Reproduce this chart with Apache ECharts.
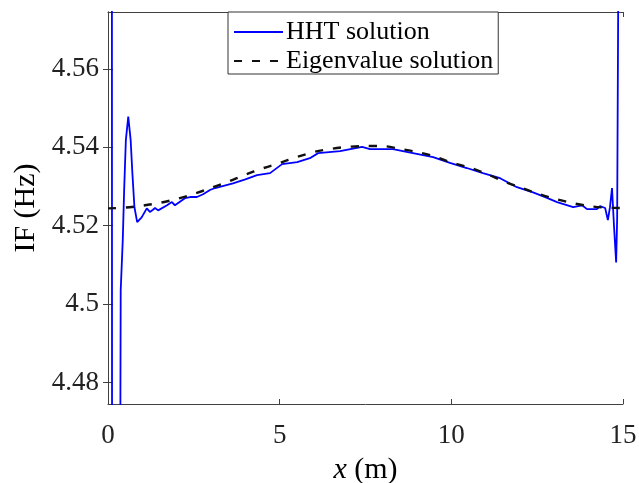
<!DOCTYPE html>
<html>
<head>
<meta charset="utf-8">
<script src="https://cdn.jsdelivr.net/npm/echarts@6/dist/echarts.min.js"></script>
<style>
  html, body { margin: 0; padding: 0; background: #fff; }
  #chart { width: 639px; height: 483px; }
</style>
</head>
<body>
<div id="chart"></div>
<script>
"use strict";

// HHT solution (blue); values beyond the axis run off the plot
var hhtX = [0.00, 0.11, 0.12, 0.35, 0.36, 0.37, 0.43, 0.47, 0.52, 0.59, 0.66, 0.71, 0.77, 0.85,
  0.98, 1.13, 1.22, 1.30, 1.37, 1.46, 1.72, 1.86, 1.95, 2.24, 2.39, 2.59, 2.77, 2.97, 3.12,
  3.64, 4.00, 4.34, 4.72, 5.07, 5.51, 5.88, 6.12, 6.76, 7.40, 7.63, 8.30, 8.88, 9.47, 9.96,
  10.45, 10.92, 11.42, 11.91, 12.38, 12.75, 13.08, 13.55, 13.81, 13.95, 14.24, 14.33, 14.48,
  14.56, 14.62, 14.68, 14.74, 14.80, 14.83, 14.86, 14.87, 15.00];
var hhtY = [4.70, 4.70, 4.40, 4.40, 4.47, 4.5035, 4.5163, 4.5290, 4.5418, 4.5478, 4.5418, 4.5334, 4.5247, 4.5209,
  4.5221, 4.5244, 4.5235, 4.5240, 4.5245, 4.5239, 4.5252, 4.5260, 4.5252, 4.5270, 4.5273, 4.5273, 4.5280, 4.5291, 4.5296,
  4.5308, 4.5318, 4.5329, 4.5334, 4.5357, 4.5362, 4.5372, 4.5385, 4.5390, 4.5401, 4.5395, 4.5395, 4.5385, 4.5375, 4.5360,
  4.5347, 4.5334, 4.5321, 4.5298, 4.5285, 4.5272, 4.5260, 4.5247, 4.5252, 4.5242, 4.5242, 4.5250, 4.5245,
  4.5214, 4.5247, 4.5296, 4.5196, 4.5106, 4.5221, 4.5760, 4.70, 4.70];

// Eigenvalue solution (black dashed)
var eigX = [0, 0.5, 1.0, 1.5, 2.0, 2.5, 3.0, 3.5, 4.0, 4.5, 5.0, 5.5, 6.0, 6.5, 7.0, 7.5,
  8.0, 8.5, 9.0, 9.5, 10.0, 10.5, 11.0, 11.5, 12.0, 12.5, 13.0, 13.5, 14.0, 14.5, 15.0];
var eigY = [4.5244, 4.5246, 4.5251, 4.5258, 4.5268, 4.5281, 4.5296, 4.5312, 4.5330, 4.5346, 4.5360, 4.5375, 4.5388, 4.5396, 4.5401, 4.5403,
  4.5403, 4.5396, 4.5388, 4.5377, 4.5361, 4.5349, 4.5333, 4.5314, 4.5298, 4.5282, 4.5269, 4.5258, 4.5250, 4.5246, 4.5245];

var xTicks = [0, 5, 10, 15];
var yTicks = [4.48, 4.5, 4.52, 4.54, 4.56];
var seriesNames = ['HHT solution', 'Eigenvalue solution'];

var FONT = 'Liberation Serif';
var AXIS_COLOR = '#404040';

function pairs(xs, ys) {
  return xs.map(function(x, i) { return [x, ys[i]]; });
}

var chart = echarts.init(document.getElementById('chart'));

var option = {
  animation: false,
  backgroundColor: '#fff',
  grid: { left: 108, right: 16, top: 12, bottom: 79, containLabel: false, outerBoundsMode: 'none' },
  legend: {
    data: seriesNames,
    orient: 'vertical',
    left: 228,
    top: 12,
    itemWidth: 49,
    itemHeight: 14,
    itemGap: 3,
    padding: [7, 5, 0, 5],
    borderColor: '#333',
    borderWidth: 1,
    backgroundColor: '#fff',
    itemStyle: { opacity: 0 },   // hide the marker dot, keep only the line sample
    textStyle: { fontFamily: FONT, fontSize: 26, color: '#000', lineHeight: 24, padding: [0, 0, 0, -2] }
  },
  xAxis: [{
    type: 'value',
    min: 0,
    max: 15,
    interval: 5,
    position: 'bottom',
    name: '{i|x} (m)',
    nameLocation: 'middle',
    nameGap: 51,
    nameTextStyle: {
      fontFamily: FONT, fontSize: 30, color: '#000',
      rich: { i: { fontFamily: FONT, fontSize: 30, fontStyle: 'italic', color: '#000' } }
    },
    axisLine: { show: true, lineStyle: { color: AXIS_COLOR, width: 1 } },
    axisTick: { show: true, inside: true, length: 5, lineStyle: { color: AXIS_COLOR } },
    axisLabel: {
      margin: 18, fontFamily: FONT, fontSize: 27, color: '#222',
      customValues: xTicks
    },
    splitLine: { show: false }
  }, {
    type: 'value',
    min: 0,
    max: 15,
    interval: 5,
    position: 'top',
    axisLine: { show: true, lineStyle: { color: AXIS_COLOR, width: 1 } },
    axisTick: { show: true, inside: true, length: 5, lineStyle: { color: AXIS_COLOR } },
    axisLabel: { show: false },
    splitLine: { show: false }
  }],
  yAxis: [{
    type: 'value',
    min: 4.4745,
    max: 4.5745,
    position: 'left',
    name: 'IF (Hz)',
    nameLocation: 'middle',
    nameGap: 66,
    nameTextStyle: { fontFamily: FONT, fontSize: 30, color: '#000' },
    axisLine: { show: true, lineStyle: { color: AXIS_COLOR, width: 1 } },
    axisTick: { show: true, inside: true, length: 5, lineStyle: { color: AXIS_COLOR }, customValues: yTicks },
    axisLabel: {
      margin: 9, fontFamily: FONT, fontSize: 27, color: '#222',
      customValues: yTicks,
      formatter: function(v) { return String(+v.toFixed(2)); }
    },
    splitLine: { show: false }
  }, {
    type: 'value',
    min: 4.4745,
    max: 4.5745,
    position: 'right',
    axisLine: { show: true, lineStyle: { color: AXIS_COLOR, width: 1 } },
    axisTick: { show: true, inside: true, length: 5, lineStyle: { color: AXIS_COLOR }, customValues: yTicks },
    axisLabel: { show: false },
    splitLine: { show: false }
  }],
  series: [{
    name: seriesNames[0],
    type: 'line',
    xAxisIndex: 0,
    yAxisIndex: 0,
    data: pairs(hhtX, hhtY),
    symbol: 'none',
    clip: true,
    lineStyle: { color: '#0000ff', width: 1.8 },
    itemStyle: { color: '#0000ff' },
    z: 2
  }, {
    name: seriesNames[1],
    type: 'line',
    xAxisIndex: 0,
    yAxisIndex: 0,
    data: pairs(eigX, eigY),
    symbol: 'none',
    smooth: 0.3,
    clip: true,
    lineStyle: { color: '#111', width: 2.4, type: [8, 10] },
    itemStyle: { color: '#111' },
    z: 3
  }]
};

chart.setOption(option);
</script>
</body>
</html>
